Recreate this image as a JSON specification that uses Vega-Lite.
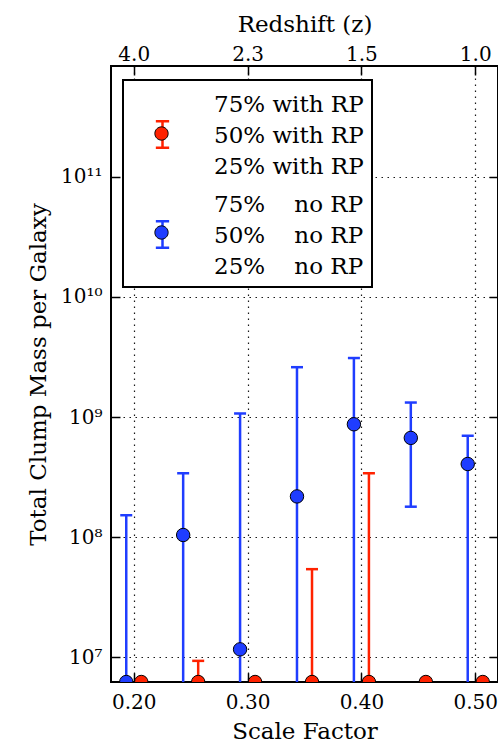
{
  "$schema": "https://vega.github.io/schema/vega-lite/v6.json",
  "width": 387,
  "height": 616,
  "autosize": "none",
  "padding": {"left": 111, "top": 66, "right": 0, "bottom": 62},
  "data": {
    "values": [
      {"series": "no RP", "a": 0.1934, "mid": 6.2e6, "lo": 1e6, "hi": 1.52e8},
      {"series": "no RP", "a": 0.2434, "mid": 1.04e8, "lo": 1e6, "hi": 3.4e8},
      {"series": "no RP", "a": 0.2934, "mid": 1.16e7, "lo": 1e6, "hi": 1.07e9},
      {"series": "no RP", "a": 0.3434, "mid": 2.18e8, "lo": 1e6, "hi": 2.6e9},
      {"series": "no RP", "a": 0.3934, "mid": 8.7e8, "lo": 1e6, "hi": 3.1e9},
      {"series": "no RP", "a": 0.4434, "mid": 6.7e8, "lo": 1.79e8, "hi": 1.32e9},
      {"series": "no RP", "a": 0.4934, "mid": 4.06e8, "lo": 1e6, "hi": 6.98e8},
      {"series": "with RP", "a": 0.2066, "mid": 6.2e6, "lo": null, "hi": null},
      {"series": "with RP", "a": 0.2566, "mid": 6.2e6, "lo": 1e6, "hi": 9.3e6},
      {"series": "with RP", "a": 0.3066, "mid": 6.2e6, "lo": null, "hi": null},
      {"series": "with RP", "a": 0.3566, "mid": 6.2e6, "lo": 1e6, "hi": 5.4e7},
      {"series": "with RP", "a": 0.4066, "mid": 6.2e6, "lo": 1e6, "hi": 3.4e8},
      {"series": "with RP", "a": 0.4566, "mid": 6.2e6, "lo": null, "hi": null},
      {"series": "with RP", "a": 0.5066, "mid": 6.2e6, "lo": null, "hi": null}
    ]
  },
  "config": {
    "font": "DejaVu Serif",
    "view": {"stroke": "black", "strokeWidth": 2},
    "legend": {"strokeWidth": 2},
    "axis": {
      "domain": false,
      "tickColor": "black",
      "tickWidth": 1.5,
      "labelColor": "black",
      "titleColor": "black",
      "labelFont": "DejaVu Serif",
      "titleFont": "DejaVu Serif",
      "labelFontSize": 20,
      "titleFontSize": 23,
      "titleFontWeight": "normal",
      "gridColor": "black",
      "gridDash": [1.5, 4.5],
      "gridWidth": 1.2,
      "gridOpacity": 0.9
    },
    "style": {"guide-label": {"lineHeight": 31}}
  },
  "resolve": {"axis": {"x": "independent", "y": "independent"}},
  "layer": [
    {
      "transform": [{"filter": "datum.hi != null"}],
      "mark": {"type": "rule", "strokeWidth": 2.5, "clip": true},
      "encoding": {
        "x": {
          "field": "a", "type": "quantitative",
          "scale": {"domain": [0.18, 0.52], "nice": false, "zero": false},
          "axis": {"orient": "bottom", "values": [0.2, 0.3, 0.4, 0.5], "format": ".2f", "title": "Scale Factor", "grid": true, "tickSize": -9, "labelPadding": 19, "titlePadding": 8}
        },
        "y": {
          "field": "hi", "type": "quantitative",
          "scale": {"type": "log", "domain": [6.2e6, 8.4e11], "nice": false},
          "axis": {"orient": "left", "values": [1e7, 1e8, 1e9, 1e10, 1e11], "labelExpr": "round(log(datum.value)/LN10) == 7 ? '10⁷' : round(log(datum.value)/LN10) == 8 ? '10⁸' : round(log(datum.value)/LN10) == 9 ? '10⁹' : round(log(datum.value)/LN10) == 10 ? '10¹⁰' : '10¹¹'", "title": "Total Clump Mass per Galaxy", "grid": true, "tickSize": -9, "labelPadding": 18, "titlePadding": 10}
        },
        "y2": {"field": "lo"},
        "stroke": {
          "field": "series", "type": "nominal",
          "scale": {"domain": ["with RP", "no RP"], "range": ["#ff2200", "#1f3dff"]},
          "legend": {
            "orient": "none", "legendX": 12, "legendY": 14, "direction": "vertical", "title": null,
            "padding": 8, "fillColor": "white", "strokeColor": "black",
            "symbolType": "M1,1.113V2.887M0.556,1.113H1.444M0.556,2.887H1.444",
            "symbolSize": 900, "symbolStrokeWidth": 2.5, "symbolOpacity": 1,
            "labelExpr": "datum.value == 'with RP' ? ['75% with RP', '50% with RP', '25% with RP'] : ['75%\u00a0\u00a0\u00a0\u00a0no RP', '50%\u00a0\u00a0\u00a0\u00a0no RP', '25%\u00a0\u00a0\u00a0\u00a0no RP']",
            "labelFont": "DejaVu Serif", "labelFontSize": 23, "labelColor": "black", "labelOffset": 50, "labelLimit": 0,
            "rowPadding": 9, "zindex": 1
          }
        }
      }
    },
    {
      "transform": [{"filter": "datum.hi != null"}],
      "mark": {"type": "tick", "orient": "horizontal", "size": 12, "thickness": 2.5, "opacity": 1, "clip": true},
      "encoding": {
        "x": {"field": "a", "type": "quantitative", "axis": null},
        "y": {"field": "hi", "type": "quantitative", "axis": null},
        "fill": {"field": "series", "type": "nominal", "sort": ["with RP", "no RP"], "scale": {"range": ["#ff2200", "#1f3dff"]}}
      }
    },
    {
      "transform": [{"filter": "datum.lo != null"}],
      "mark": {"type": "tick", "orient": "horizontal", "size": 12, "thickness": 2.5, "opacity": 1, "clip": true},
      "encoding": {
        "x": {"field": "a", "type": "quantitative", "axis": null},
        "y": {"field": "lo", "type": "quantitative", "axis": null},
        "fill": {"field": "series", "type": "nominal", "sort": ["with RP", "no RP"], "scale": {"range": ["#ff2200", "#1f3dff"]}}
      }
    },
    {
      "mark": {"type": "point", "shape": "circle", "filled": true, "size": 180, "stroke": "black", "strokeWidth": 1, "opacity": 1, "clip": true},
      "encoding": {
        "x": {
          "field": "a", "type": "quantitative",
          "axis": {"orient": "top", "values": [0.2, 0.3, 0.4, 0.5], "labelExpr": "round(datum.value*10) == 2 ? '4.0' : round(datum.value*10) == 3 ? '2.3' : round(datum.value*10) == 4 ? '1.5' : '1.0'", "title": "Redshift (z)", "grid": false, "tickSize": -9, "labelPadding": 11, "titlePadding": 8}
        },
        "y": {
          "field": "mid", "type": "quantitative",
          "axis": {"orient": "right", "values": [1e7, 1e8, 1e9, 1e10, 1e11], "labels": false, "title": null, "grid": false, "tickSize": -9}
        },
        "fill": {
          "field": "series", "type": "nominal", "sort": ["with RP", "no RP"],
          "scale": {"range": ["#ff2200", "#1f3dff"]},
          "legend": {
            "orient": "none", "legendX": 12, "legendY": 14, "direction": "vertical", "title": null,
            "padding": 8,
            "symbolType": "M0.557,2A0.443,0.443,0,1,1,1.443,2A0.443,0.443,0,1,1,0.557,2Z",
            "symbolSize": 900, "symbolStrokeColor": "black", "symbolStrokeWidth": 1, "symbolOpacity": 1,
            "labelExpr": "[' ', ' ', ' ']",
            "labelFont": "DejaVu Serif", "labelFontSize": 23, "labelOpacity": 0, "labelOffset": 50, "labelLimit": 0,
            "rowPadding": 9, "zindex": 2
          }
        }
      }
    }
  ]
}
